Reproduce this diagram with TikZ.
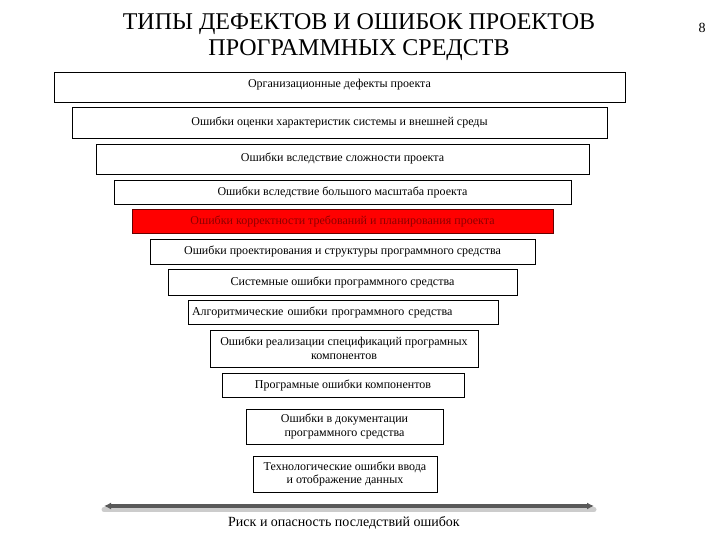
\documentclass[tikz,border=0pt]{standalone}
\usepackage{fontspec}
\setmainfont{Liberation Serif}
\usetikzlibrary{arrows.meta}
\pgfdeclarelayer{background}
\pgfsetlayers{background,main}

\tikzset{
  errbox/.style={draw,line width=0.8pt,inner sep=2pt,font=\fontsize{12}{13.5}\selectfont,align=center},
  hotbox/.style={errbox,fill=red,draw=red!40!black,text=red!55!black},
  riskarrow/.style={{Latex[length=7pt,width=7pt]}-{Latex[length=7pt,width=7pt]},line width=3.5pt,draw=black!65}
}

\begin{document}
\begin{tikzpicture}[x=1pt,y=-1pt]
    \useasboundingbox (0,0) rectangle (720,540);
    \node (title) at (359,37) [align=center,font=\fontsize{24}{26}\selectfont]
        {ТИПЫ ДЕФЕКТОВ И ОШИБОК ПРОЕКТОВ\\ПРОГРАММНЫХ СРЕДСТВ};
    \node (page) at (702,28) [font=\fontsize{14}{16}\selectfont] {8};

    \node[errbox,minimum width=571pt,minimum height=30pt] (d1) at (339.5,87)
        {\raisebox{7pt}{Организационные дефекты проекта}};
    \node[errbox,minimum width=535pt,minimum height=31pt] (d2) at (339.5,122.5)
        {\raisebox{3pt}{Ошибки оценки характеристик системы и внешней среды}};
    \node[errbox,minimum width=493pt,minimum height=30pt] (d3) at (342.5,159)
        {\raisebox{3pt}{Ошибки вследствие сложности проекта}};
    \node[errbox,minimum width=457pt,minimum height=24pt] (d4) at (342.5,192)
        {Ошибки вследствие большого масштаба проекта};
    \node[hotbox,minimum width=421pt,minimum height=24pt] (d5) at (342.5,221.5)
        {Ошибки корректности требований и планирования проекта};
    \node[errbox,minimum width=385pt,minimum height=25pt] (d6) at (342.5,251.5)
        {Ошибки проектирования и структуры программного средства};
    \node[errbox,minimum width=349pt,minimum height=26pt] (d7) at (342.5,282)
        {Системные ошибки программного средства};
    \node[errbox,minimum width=310pt,minimum height=24pt,text width=302pt,align=left] (d8) at (343,312)
        {Алгоритмические ошибки программного средства};
    \node[errbox,minimum width=268pt,minimum height=37pt] (d9) at (344,348.5)
        {Ошибки реализации спецификаций програмных\\компонентов};
    \node[errbox,minimum width=242pt,minimum height=24pt] (d10) at (343,385)
        {Програмные ошибки компонентов};
    \node[errbox,minimum width=197pt,minimum height=35pt] (d11) at (344.5,426.5)
        {Ошибки в документации\\программного средства};
    \node[errbox,minimum width=184pt,minimum height=36pt] (d12) at (345,474)
        {Технологические ошибки ввода\\и отображение данных};

    \coordinate (lowrisk) at (104,506);
    \coordinate (highrisk) at (594,506);
    \begin{pgfonlayer}{background}
      \draw[line width=5pt,black!20,line cap=round] ([yshift=-3.5pt]lowrisk) -- ([yshift=-3.5pt]highrisk);
    \end{pgfonlayer}
    \draw[riskarrow] (lowrisk) -- (highrisk);
    \node (risk) at (344,523) [font=\fontsize{14}{16}\selectfont] {Риск и опасность последствий ошибок};
\end{tikzpicture}
\end{document}
